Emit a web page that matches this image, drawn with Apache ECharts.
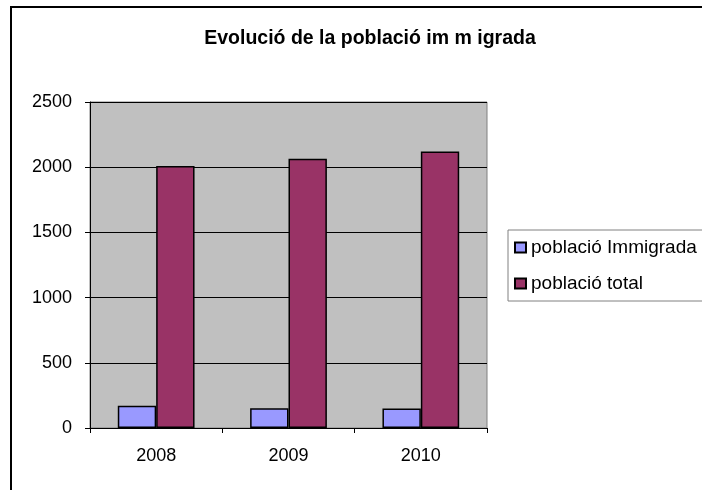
<!DOCTYPE html>
<html>
<head>
<meta charset="utf-8">
<script src="https://cdn.jsdelivr.net/npm/echarts@6/dist/echarts.min.js"></script>
<style>html,body{margin:0;padding:0;background:#fff}#c{width:702px;height:490px}</style>
</head>
<body>
<div id="c"></div>
<script>
const categories = ['2008', '2009', '2010'];
const immigrada = [170, 152, 150];
const total = [2010, 2065, 2120];
const seriesNames = ['població Immigrada', 'població total'];
const yTicks = [0, 500, 1000, 1500, 2000, 2500];

const chart = echarts.init(document.getElementById('c'), null, {renderer: 'canvas'});
const font = 'Liberation Sans, Arial, sans-serif';
chart.setOption({
  animation: false,
  backgroundColor: '#fff',
  textStyle: {fontFamily: font},
  title: {
    text: 'Evolució de la població im m igrada',
    left: 365, top: 24, textAlign: 'center',
    textStyle: {fontSize: 19.5, fontWeight: 'bold', color: '#000', fontFamily: font}
  },
  graphic: [{
    type: 'rect', shape: {x: 11, y: 7, width: 800, height: 600},
    style: {fill: null, stroke: '#000', lineWidth: 2}, silent: true, z: -1
  }],
  legend: {
    orient: 'vertical', left: 508, top: 230,
    borderColor: '#808080', borderWidth: 1,
    padding: [8, 8, 8, 6],
    itemWidth: 11, itemHeight: 10, itemGap: 17, icon: 'rect',
    textStyle: {fontSize: 19, color: '#000', fontFamily: font},
    data: seriesNames
  },
  grid: {
    left: 90, right: 215, top: 102, bottom: 62,
    show: true, backgroundColor: '#C0C0C0', borderColor: '#808080', borderWidth: 1
  },
  xAxis: {
    type: 'category', data: categories,
    axisLine: {lineStyle: {color: '#000', width: 1}},
    axisTick: {show: true, length: 5, lineStyle: {color: '#000'}},
    axisLabel: {fontSize: 18, color: '#000', margin: 19, fontFamily: font}
  },
  yAxis: {
    type: 'value', min: yTicks[0], max: yTicks[yTicks.length - 1], interval: 500,
    axisLine: {show: true, lineStyle: {color: '#000', width: 1}},
    axisTick: {show: true, length: 5, lineStyle: {color: '#000'}},
    axisLabel: {fontSize: 18, color: '#000', margin: 18, fontFamily: font,
                formatter: function (v) { return String(v); }},
    splitLine: {lineStyle: {color: '#000', width: 1}}
  },
  series: [
    {name: seriesNames[0], type: 'bar', data: immigrada, barGap: '0%', barCategoryGap: '42%',
     itemStyle: {color: '#9999FF', borderColor: '#000', borderWidth: 1.5}},
    {name: seriesNames[1], type: 'bar', data: total, barGap: '0%', barCategoryGap: '42%',
     itemStyle: {color: '#993366', borderColor: '#000', borderWidth: 1.5}}
  ]
});
</script>
</body>
</html>
